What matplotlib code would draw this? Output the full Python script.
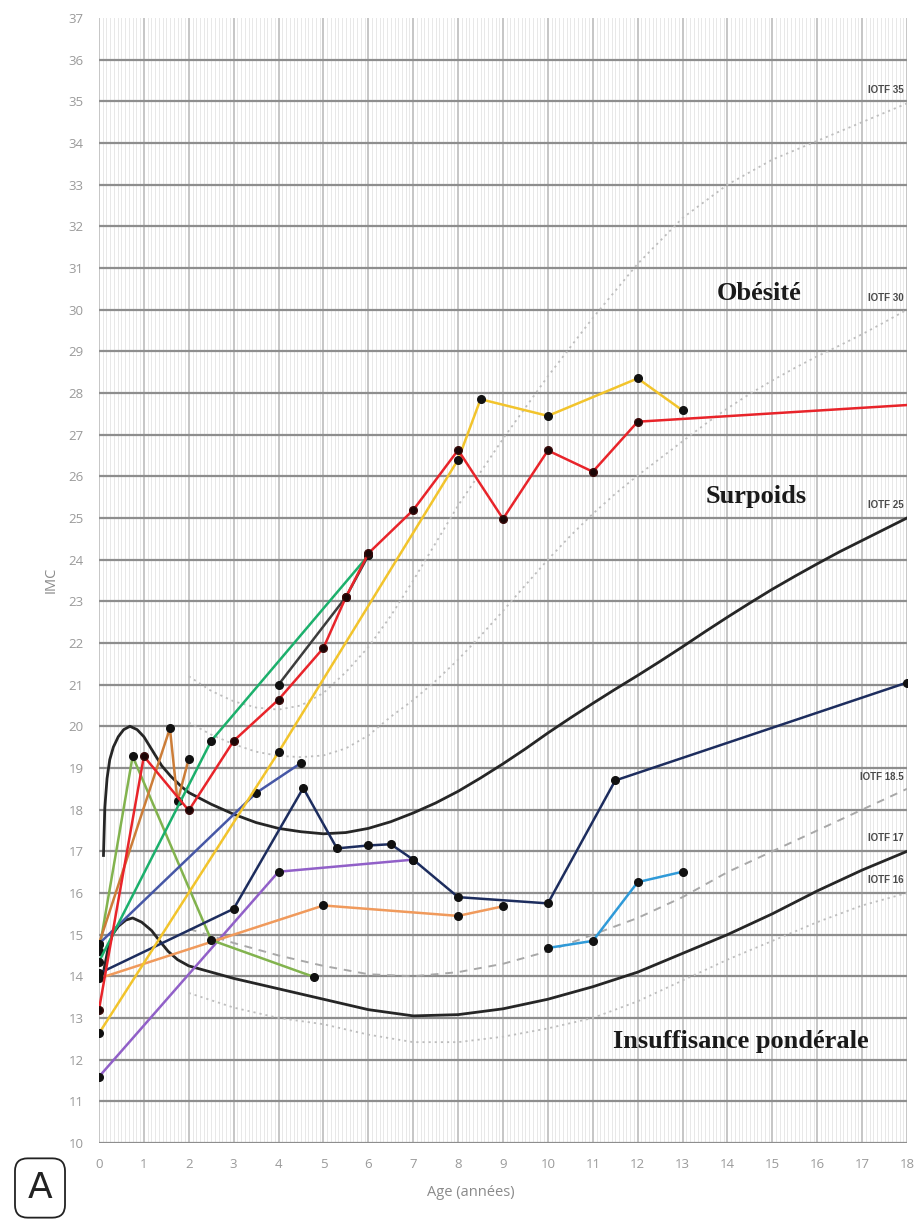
import matplotlib
matplotlib.use("Agg")
import matplotlib.pyplot as plt
from matplotlib.ticker import MultipleLocator

# ---- reference curves (IOTF cut-offs) ----
iotf25_x = [0.1, 0.13, 0.18, 0.24, 0.32, 0.43, 0.55, 0.69, 0.85, 1.0, 1.2, 1.4, 1.6, 1.84, 2, 2.5, 3, 3.5, 4, 4.5, 5,
            5.5, 6, 6.5, 7, 7.5, 8, 8.5, 9, 9.5, 10, 10.5, 11, 11.5, 12, 12.5, 13, 13.5, 14, 14.5, 15, 15.5, 16,
            16.5, 17, 17.5, 18]
iotf25_y = [16.9, 18.05, 18.75, 19.2, 19.5, 19.75, 19.92, 20.0, 19.92, 19.75, 19.4, 19.05, 18.8, 18.55, 18.41, 18.13,
            17.89, 17.69, 17.55, 17.47, 17.42, 17.45, 17.55, 17.71, 17.92, 18.16, 18.44, 18.76, 19.1, 19.46, 19.84,
            20.2, 20.55, 20.89, 21.22, 21.56, 21.91, 22.27, 22.62, 22.96, 23.29, 23.6, 23.9, 24.19, 24.46, 24.73, 25.0]

iotf17_x = [0.1, 0.2, 0.3, 0.43, 0.6, 0.75, 0.95, 1.17, 1.35, 1.54, 1.75, 2, 2.5, 3, 4, 5, 6, 7, 8, 9, 10, 11, 12,
            13, 14, 15, 16, 17, 18]
iotf17_y = [14.1, 14.65, 15.0, 15.2, 15.35, 15.4, 15.3, 15.1, 14.85, 14.6, 14.4, 14.25, 14.1, 13.95, 13.7, 13.45,
            13.2, 13.05, 13.08, 13.22, 13.45, 13.75, 14.1, 14.55, 15.0, 15.5, 16.05, 16.55, 17.0]

iotf30_x = [2, 2.5, 3, 3.5, 4, 4.5, 5, 5.5, 6, 6.5, 7, 7.5, 8, 8.5, 9, 9.5, 10, 10.5, 11, 11.5, 12, 12.5, 13, 13.5,
            14, 14.5, 15, 15.5, 16, 16.5, 17, 17.5, 18]
iotf30_y = [20.09, 19.8, 19.57, 19.39, 19.29, 19.26, 19.3, 19.47, 19.78, 20.23, 20.63, 21.09, 21.6, 22.17, 22.77,
            23.39, 24.0, 24.57, 25.1, 25.58, 26.02, 26.43, 26.84, 27.25, 27.63, 27.98, 28.3, 28.6, 28.88, 29.14,
            29.41, 29.7, 30.0]

iotf35_x = [2, 2.5, 3, 3.5, 4, 4.5, 5, 5.5, 6, 6.5, 7, 8, 9, 10, 11, 12, 13, 14, 15, 16, 17, 18]
iotf35_y = [21.2, 20.85, 20.6, 20.45, 20.4, 20.5, 20.8, 21.3, 21.9, 22.65, 23.5, 25.3, 26.9, 28.4, 29.8, 31.1,
            32.2, 33.0, 33.6, 34.05, 34.5, 34.95]

iotf185_x = [2, 3, 4, 5, 6, 7, 8, 9, 10, 11, 12, 13, 14, 15, 16, 17, 18]
iotf185_y = [15.14, 14.8, 14.5, 14.25, 14.05, 14.0, 14.1, 14.3, 14.6, 15.0, 15.4, 15.9, 16.5, 17.0, 17.5, 18.0, 18.5]

iotf16_x = [2, 3, 4, 5, 6, 7, 8, 9, 10, 11, 12, 13, 14, 15, 16, 17, 18]
iotf16_y = [13.6, 13.25, 13.0, 12.85, 12.6, 12.42, 12.42, 12.55, 12.75, 13.0, 13.4, 13.9, 14.4, 14.85, 15.3, 15.7,
            16.0]

iotf_labels = ["IOTF 35", "IOTF 30", "IOTF 25", "IOTF 18.5", "IOTF 17", "IOTF 16"]
iotf_label_y = [35.15, 30.17, 25.19, 18.67, 17.19, 16.19]

# ---- patients ----
yellow_x = [0, 4, 8, 8.5, 10, 12, 13]
yellow_y = [12.63, 19.38, 26.4, 27.85, 27.45, 28.35, 27.58]
red_x = [0, 1, 2, 3, 4, 5, 5.5, 6, 7, 8, 9, 10, 11, 12, 18]
red_y = [13.2, 19.28, 17.98, 19.65, 20.64, 21.88, 23.1, 24.15, 25.19, 26.63, 24.98, 26.62, 26.11, 27.31, 27.71]
teal_x = [0, 2.5, 6]
teal_y = [14.35, 19.65, 24.1]
olive_x = [0, 0.75, 2.5, 4.8]
olive_y = [14.6, 19.28, 14.87, 13.98]
brown_x = [0, 1.58, 1.75, 2.0]
brown_y = [14.78, 19.95, 18.2, 19.22]
orange_x = [0, 5, 8, 9]
orange_y = [13.95, 15.7, 15.45, 15.68]
slate_x = [0, 3.5, 4.5]
slate_y = [14.78, 18.4, 19.12]
navy_x = [0, 3, 4.55, 5.3, 6, 6.5, 7, 8, 10, 11.5, 18]
navy_y = [14.07, 15.62, 18.52, 17.07, 17.14, 17.17, 16.8, 15.9, 15.75, 18.7, 21.05]
purple_x = [0, 4, 7]
purple_y = [11.59, 16.51, 16.8]
lblue_x = [10, 11, 12, 13]
lblue_y = [14.68, 14.85, 16.26, 16.51]
dark_x = [4, 5.5, 6]
dark_y = [21.0, 23.1, 24.1]

fig = plt.figure(figsize=(9.19, 12.21), dpi=100)
ax = fig.add_axes([0.1077, 0.0639, 0.8793, 0.9214])
ax.set_xlim(0, 18)
ax.set_ylim(10, 37)

# grid: months in light grey, years darker, BMI units darkest
ax.xaxis.set_major_locator(MultipleLocator(1))
ax.xaxis.set_minor_locator(MultipleLocator(1 / 12))
ax.yaxis.set_major_locator(MultipleLocator(1))
ax.grid(axis="x", which="minor", color="#e8e8e8", lw=0.7, zorder=0)
ax.grid(axis="x", which="major", color="#c6c6c6", lw=1.4, zorder=0)
ax.grid(axis="y", which="major", color="#8e8e8e", lw=1.6, zorder=0)
ax.set_axisbelow(True)
for gl, t in zip(ax.get_ygridlines(), ax.get_yticks()):
    if t >= 37:
        gl.set_visible(False)
for s in ax.spines.values():
    s.set_visible(False)
ax.tick_params(which="both", length=0, labelcolor="#9a9a9a", labelsize=9.5)
ax.tick_params(axis="y", pad=11)
ax.tick_params(axis="x", pad=11)
for lab in ax.get_xticklabels() + ax.get_yticklabels():
    lab.set_family("Open Sans")

# IOTF curves
dots = (0, (1.2, 2.2))
ax.plot(iotf35_x, iotf35_y, color="#bdbdbd", lw=1.3, ls=dots, zorder=2)
ax.plot(iotf30_x, iotf30_y, color="#bdbdbd", lw=1.3, ls=dots, zorder=2)
ax.plot(iotf16_x, iotf16_y, color="#bdbdbd", lw=1.3, ls=dots, zorder=2)
ax.plot(iotf185_x, iotf185_y, color="#a8a8a8", lw=1.4, ls=(0, (4, 3.5)), zorder=2)
ax.plot(iotf25_x, iotf25_y, color="#262626", lw=2.0, zorder=2)
ax.plot(iotf17_x, iotf17_y, color="#262626", lw=2.0, zorder=2)

for txt, yv in zip(iotf_labels, iotf_label_y):
    ax.text(17.92, yv, txt, ha="right", va="bottom", fontsize=7, fontweight="bold", color="#4a4a4a",
            family="Liberation Sans")

# patient series
series = [
    (lblue_x, lblue_y, "#2f9ad8"),
    (purple_x, purple_y, "#9160c8"),
    (orange_x, orange_y, "#f09a5c"),
    (olive_x, olive_y, "#82b34e"),
    (brown_x, brown_y, "#cc7d38"),
    (slate_x, slate_y, "#4657a6"),
    (navy_x, navy_y, "#1d2d5e"),
    (teal_x, teal_y, "#1cb06c"),
    (dark_x, dark_y, "#3c3c3c"),
    (yellow_x, yellow_y, "#f2c42c"),
]
for xs, ys, c in series:
    ax.plot(xs, ys, color=c, lw=1.8, marker="o", ms=5.5, mfc="#111111", mec="#111111", zorder=3)
ax.plot(red_x, red_y, color="#e8242a", lw=1.8, marker="o", ms=5.5, mfc="#1a0606", mec="#3a0a0a",
        markevery=list(range(len(red_x) - 1)), zorder=3)

# zone labels
for txt, xv, yv in [("Obésité", 14.7, 30.39), ("Surpoids", 14.63, 25.51),
                    ("Insuffisance pondérale", 14.3, 12.43)]:
    ax.text(xv, yv, txt, ha="center", va="center", fontsize=19, fontweight="bold",
            family="Liberation Serif", color="#1a1a1a")

fig.text(51 / 919, 1 - 580 / 1221, "IMC", rotation=90, ha="center", va="center", fontsize=10.5,
         color="#8a8a8a", family="Open Sans")
fig.text(471 / 919, 1 - 1193 / 1221, "Age (années)", ha="center", va="center", fontsize=10.5,
         color="#8a8a8a", family="Open Sans")

fig.text(40 / 919, 1 - 1188 / 1221, "A", ha="center", va="center", fontsize=26, color="#222222",
         family="DejaVu Sans",
         bbox=dict(boxstyle="round,pad=0.35,rounding_size=0.35", fc="white", ec="#222222", lw=1.3))

fig.savefig("out.png", dpi=100)
